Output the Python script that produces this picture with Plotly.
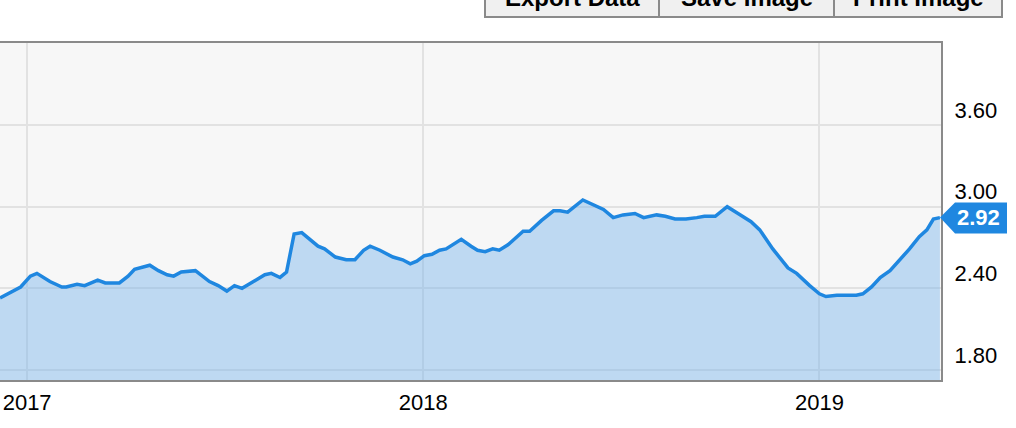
import plotly.graph_objects as go

# Weekly-ish readings
dates = [
    "2016-12-07", "2016-12-21", "2016-12-26", "2017-01-04", "2017-01-10", "2017-01-22",
    "2017-02-02", "2017-02-06", "2017-02-16", "2017-02-23", "2017-03-07", "2017-03-14",
    "2017-03-27", "2017-04-04", "2017-04-10", "2017-04-24", "2017-05-02", "2017-05-10",
    "2017-05-16", "2017-05-23", "2017-06-05", "2017-06-18", "2017-06-26", "2017-07-04",
    "2017-07-11", "2017-07-18", "2017-08-02", "2017-08-08", "2017-08-14", "2017-08-22",
    "2017-08-28", "2017-09-04", "2017-09-11", "2017-09-26", "2017-10-02", "2017-10-12",
    "2017-10-22", "2017-10-30", "2017-11-07", "2017-11-13", "2017-11-22", "2017-12-04",
    "2017-12-13", "2017-12-20", "2017-12-26", "2018-01-02", "2018-01-09", "2018-01-16",
    "2018-01-22", "2018-02-05", "2018-02-14", "2018-02-20", "2018-02-27", "2018-03-06",
    "2018-03-12", "2018-03-20", "2018-04-03", "2018-04-09", "2018-04-20", "2018-05-01",
    "2018-05-07", "2018-05-14", "2018-05-28", "2018-06-06", "2018-06-16", "2018-06-25",
    "2018-07-04", "2018-07-15", "2018-07-23", "2018-08-04", "2018-08-12", "2018-08-21",
    "2018-08-31", "2018-09-10", "2018-09-17", "2018-09-27", "2018-10-08", "2018-10-18",
    "2018-10-30", "2018-11-07", "2018-11-19", "2018-12-03", "2018-12-11", "2018-12-23",
    "2019-01-01", "2019-01-07", "2019-01-17", "2019-02-04", "2019-02-10", "2019-02-18",
    "2019-02-26", "2019-03-07", "2019-03-16", "2019-03-25", "2019-04-03", "2019-04-10",
    "2019-04-16", "2019-04-22",
]
values = [
    2.33, 2.39, 2.41, 2.49, 2.51, 2.45,
    2.41, 2.41, 2.43, 2.42, 2.46, 2.44,
    2.44, 2.49, 2.54, 2.57, 2.53, 2.50,
    2.49, 2.52, 2.53, 2.45, 2.42, 2.38,
    2.42, 2.40, 2.47, 2.50, 2.51, 2.48,
    2.52, 2.80, 2.81, 2.71, 2.69, 2.63,
    2.61, 2.61, 2.68, 2.71, 2.68, 2.63,
    2.61, 2.58, 2.60, 2.64, 2.65, 2.68,
    2.69, 2.76, 2.71, 2.68, 2.67, 2.69,
    2.68, 2.72, 2.82, 2.82, 2.90, 2.97,
    2.97, 2.96, 3.05, 3.02, 2.98, 2.92,
    2.94, 2.95, 2.92, 2.94, 2.93, 2.91,
    2.91, 2.92, 2.93, 2.93, 3.00, 2.95,
    2.89, 2.83, 2.69, 2.55, 2.51, 2.42,
    2.36, 2.34, 2.35, 2.35, 2.36, 2.41,
    2.48, 2.53, 2.61, 2.69, 2.78, 2.83,
    2.91, 2.92,
]
y_ticks = [1.80, 2.40, 3.00, 3.60]
y_tick_labels = ["1.80", "2.40", "3.00", "3.60"]
last_value_label = "2.92"
buttons = ["Export Data", "Save Image", "Print Image"]

LINE = "#1f87e0"
FONT = "Liberation Sans, Arial, Helvetica, sans-serif"

fig = go.Figure()
fig.add_trace(go.Scatter(
    x=dates, y=values, mode="lines",
    line=dict(color=LINE, width=3.5),
    fill="tozeroy", fillcolor="rgba(120,180,235,0.45)",
    hoverinfo="skip", showlegend=False,
))

fig.update_layout(
    width=1016, height=428,
    margin=dict(l=0, r=75, t=43, b=48),
    paper_bgcolor="white", plot_bgcolor="#f7f7f7",
    font=dict(family=FONT, size=20, color="#000"),
    xaxis=dict(
        range=["2016-12-07", "2019-04-23"],
        tick0="2017-01-01", dtick="M12", tickformat="%Y",
        showgrid=True, gridcolor="#e2e2e2", gridwidth=2,
        showline=True, linecolor="#8a8a8a", linewidth=2, mirror=True,
        ticks="", zeroline=False, fixedrange=True, automargin=False,
        ticklabelstandoff=2,
        tickfont=dict(size=22, color="#000"),
    ),
    yaxis=dict(
        range=[1.726, 4.204], side="right",
        tickvals=y_ticks, ticktext=y_tick_labels,
        showgrid=True, gridcolor="#e2e2e2", gridwidth=2,
        showline=True, linecolor="#8a8a8a", linewidth=2,
        ticks="", zeroline=False, fixedrange=True, automargin=False,
        ticklabelshift=-15, ticklabelstandoff=7,
        tickfont=dict(size=22, color="#000"),
    ),
)

# Last-value badge (arrow + box) anchored to the final value
fig.add_shape(
    type="path", xref="paper", yref="y",
    xsizemode="pixel", ysizemode="pixel",
    xanchor=1, yanchor=values[-1],
    path="M -1 0 L 14 15 L 66 15 L 66 -16 L 14 -16 Z",
    fillcolor=LINE, line=dict(width=0), layer="above",
)
fig.add_annotation(
    xref="paper", yref="y", x=1, y=values[-1], xanchor="left", yanchor="middle",
    xshift=14, text="<b>" + last_value_label + "</b>", showarrow=False,
    font=dict(family=FONT, size=22, color="white"),
)

# Export buttons cropped at the top of the frame
btn_edges = [485, 659, 834, 1002]
for i, label in enumerate(buttons):
    fig.add_shape(
        type="rect", xref="paper", yref="paper",
        xsizemode="pixel", ysizemode="pixel", xanchor=0, yanchor=1,
        x0=btn_edges[i], x1=btn_edges[i + 1], y0=26, y1=80,
        fillcolor="#f0f0f0", line=dict(color="#8a8a8a", width=2),
    )
    fig.add_annotation(
        xref="paper", yref="paper", x=(btn_edges[i] + btn_edges[i + 1]) / 2 / 941, y=1,
        yanchor="middle", xanchor="center", yshift=46,
        text="<b>" + label + "</b>", showarrow=False,
        font=dict(family=FONT, size=24, color="#000"),
    )

fig.write_html("out.html", config={"displayModeBar": False, "staticPlot": True})

# remove the default page margin so the figure sits at the window's corner
with open("out.html", encoding="utf-8") as f:
    html = f.read()
html = html.replace("<body>", '<body style="margin:0;overflow:hidden">', 1)
with open("out.html", "w", encoding="utf-8") as f:
    f.write(html)
